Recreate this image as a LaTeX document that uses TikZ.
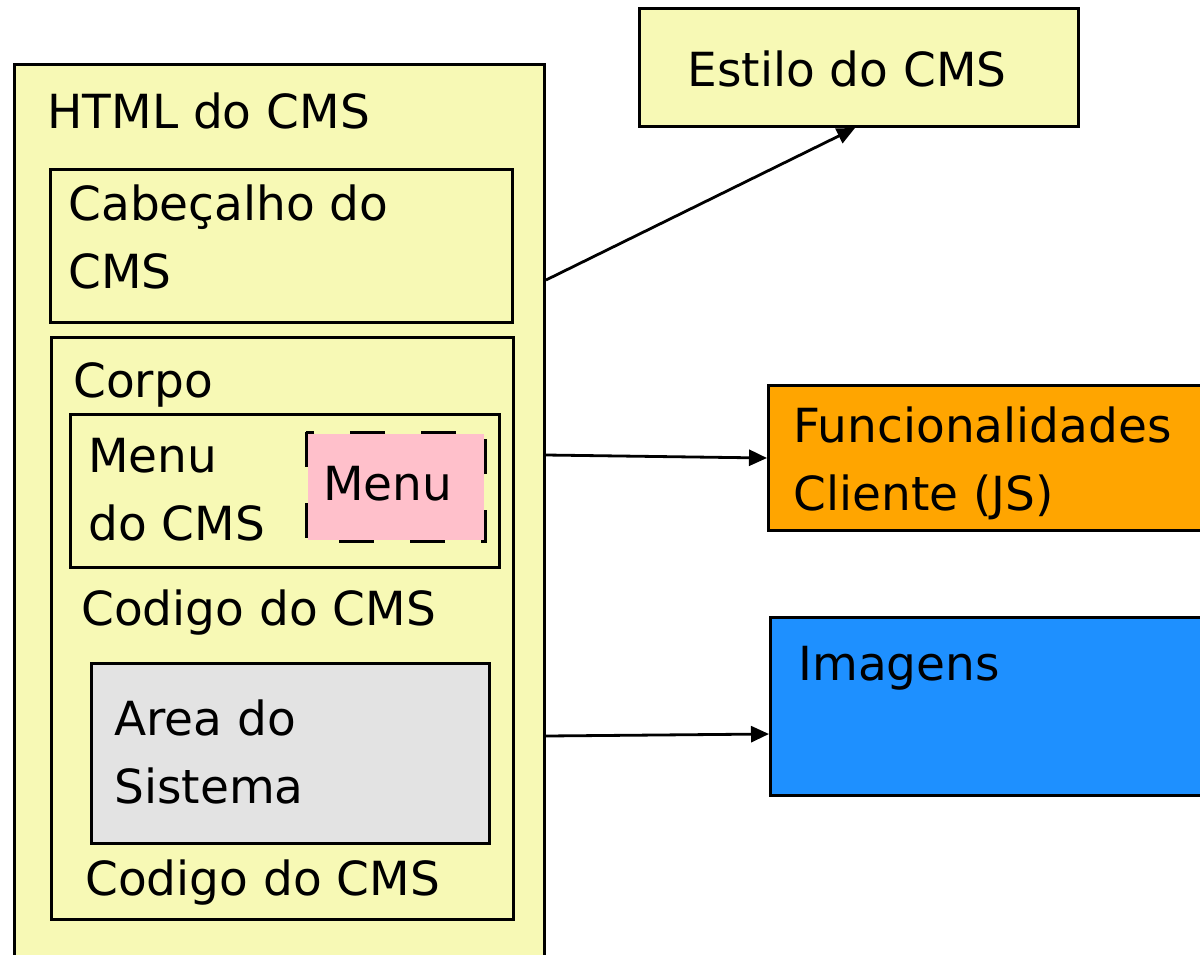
\documentclass[tikz,border=0pt]{standalone}
\usepackage{fontspec}
\setmainfont{DejaVu Sans}
\usetikzlibrary{arrows.meta}
\definecolor{cmsyellow}{HTML}{F7F9B5}
\definecolor{cmsorange}{HTML}{FFA500}
\definecolor{cmsblue}{HTML}{1E90FF}
\definecolor{cmspink}{HTML}{FFC0CB}
\definecolor{cmsgray}{HTML}{E3E3E3}
\tikzset{
  box/.style={draw=black, line width=1.5pt, rectangle, inner sep=0pt, anchor=north west},
  lbl/.style={inner sep=0pt, anchor=base west, align=left, font=\fontsize{23.5}{34}\selectfont},
  arr/.style={line width=1.4pt, -{Triangle[length=9pt,width=8pt]}},
}
\begin{document}
\begin{tikzpicture}[x=0.5pt,y=-0.5pt]
\clip (0,0) rectangle (1200,954);
\fill[white] (0,0) rectangle (1200,954);
% outer box
\node[box, fill=cmsyellow, minimum width=265pt, minimum height=460pt] (outer) at (13,63) {};
\node[lbl] (outert) at (47,128) {HTML do CMS};
% header
\node[box, fill=cmsyellow, minimum width=231pt, minimum height=76.5pt] (head) at (49,168) {};
\node[lbl] (headt) at (68,288) {Cabeçalho do\\CMS};
% body
\node[box, fill=cmsyellow, minimum width=231pt, minimum height=291pt] (body) at (50,336) {};
\node[lbl] (bodyt) at (73,397) {Corpo};
% menu
\node[box, fill=cmsyellow, minimum width=214.5pt, minimum height=76.5pt] (menu) at (69,413) {};
\node[lbl] (menut) at (88,540) {Menu\\do CMS};
\node[box, draw=none, fill=cmspink, minimum width=88pt, minimum height=53pt] (pink) at (306,432) {};
\draw[line width=1.5pt, dash pattern=on 17.5pt off 18pt] (pink.north west) rectangle (pink.south east);
\node[lbl] (pinkt) at (323,500) {Menu};
% codigo 1
\node[lbl] (cod1) at (81,625) {Codigo do CMS};
% area
\node[box, fill=cmsgray, minimum width=199pt, minimum height=90pt] (area) at (90,662) {};
\node[lbl] (areat) at (114,803) {Area do\\Sistema};
% codigo 2
\node[lbl] (cod2) at (85,895) {Codigo do CMS};
% right boxes
\node[box, fill=cmsyellow, minimum width=219.5pt, minimum height=59pt] (estilo) at (638,7) {};
\node[lbl] (estilot) at (687,86) {Estilo do CMS};
\node[box, fill=cmsorange, minimum width=230pt, minimum height=72.5pt] (func) at (767,384) {};
\node[lbl] (funct) at (793,510) {Funcionalidades\\Cliente (JS)};
\node[box, fill=cmsblue, minimum width=230pt, minimum height=89pt] (img) at (769,616) {};
\node[lbl] (imgt) at (798,680) {Imagens};
% arrows
\coordinate (a1) at (outer.east |- 0,280);
\coordinate (a2) at (outer.east |- 0,455);
\coordinate (a3) at (outer.east |- 0,736);
\draw[arr] (a1) -- (estilo.south -| 855,0);
\draw[arr] (a2) -- (func.west |- 0,458);
\draw[arr] (a3) -- (img.west |- 0,734);
\end{tikzpicture}
\end{document}
